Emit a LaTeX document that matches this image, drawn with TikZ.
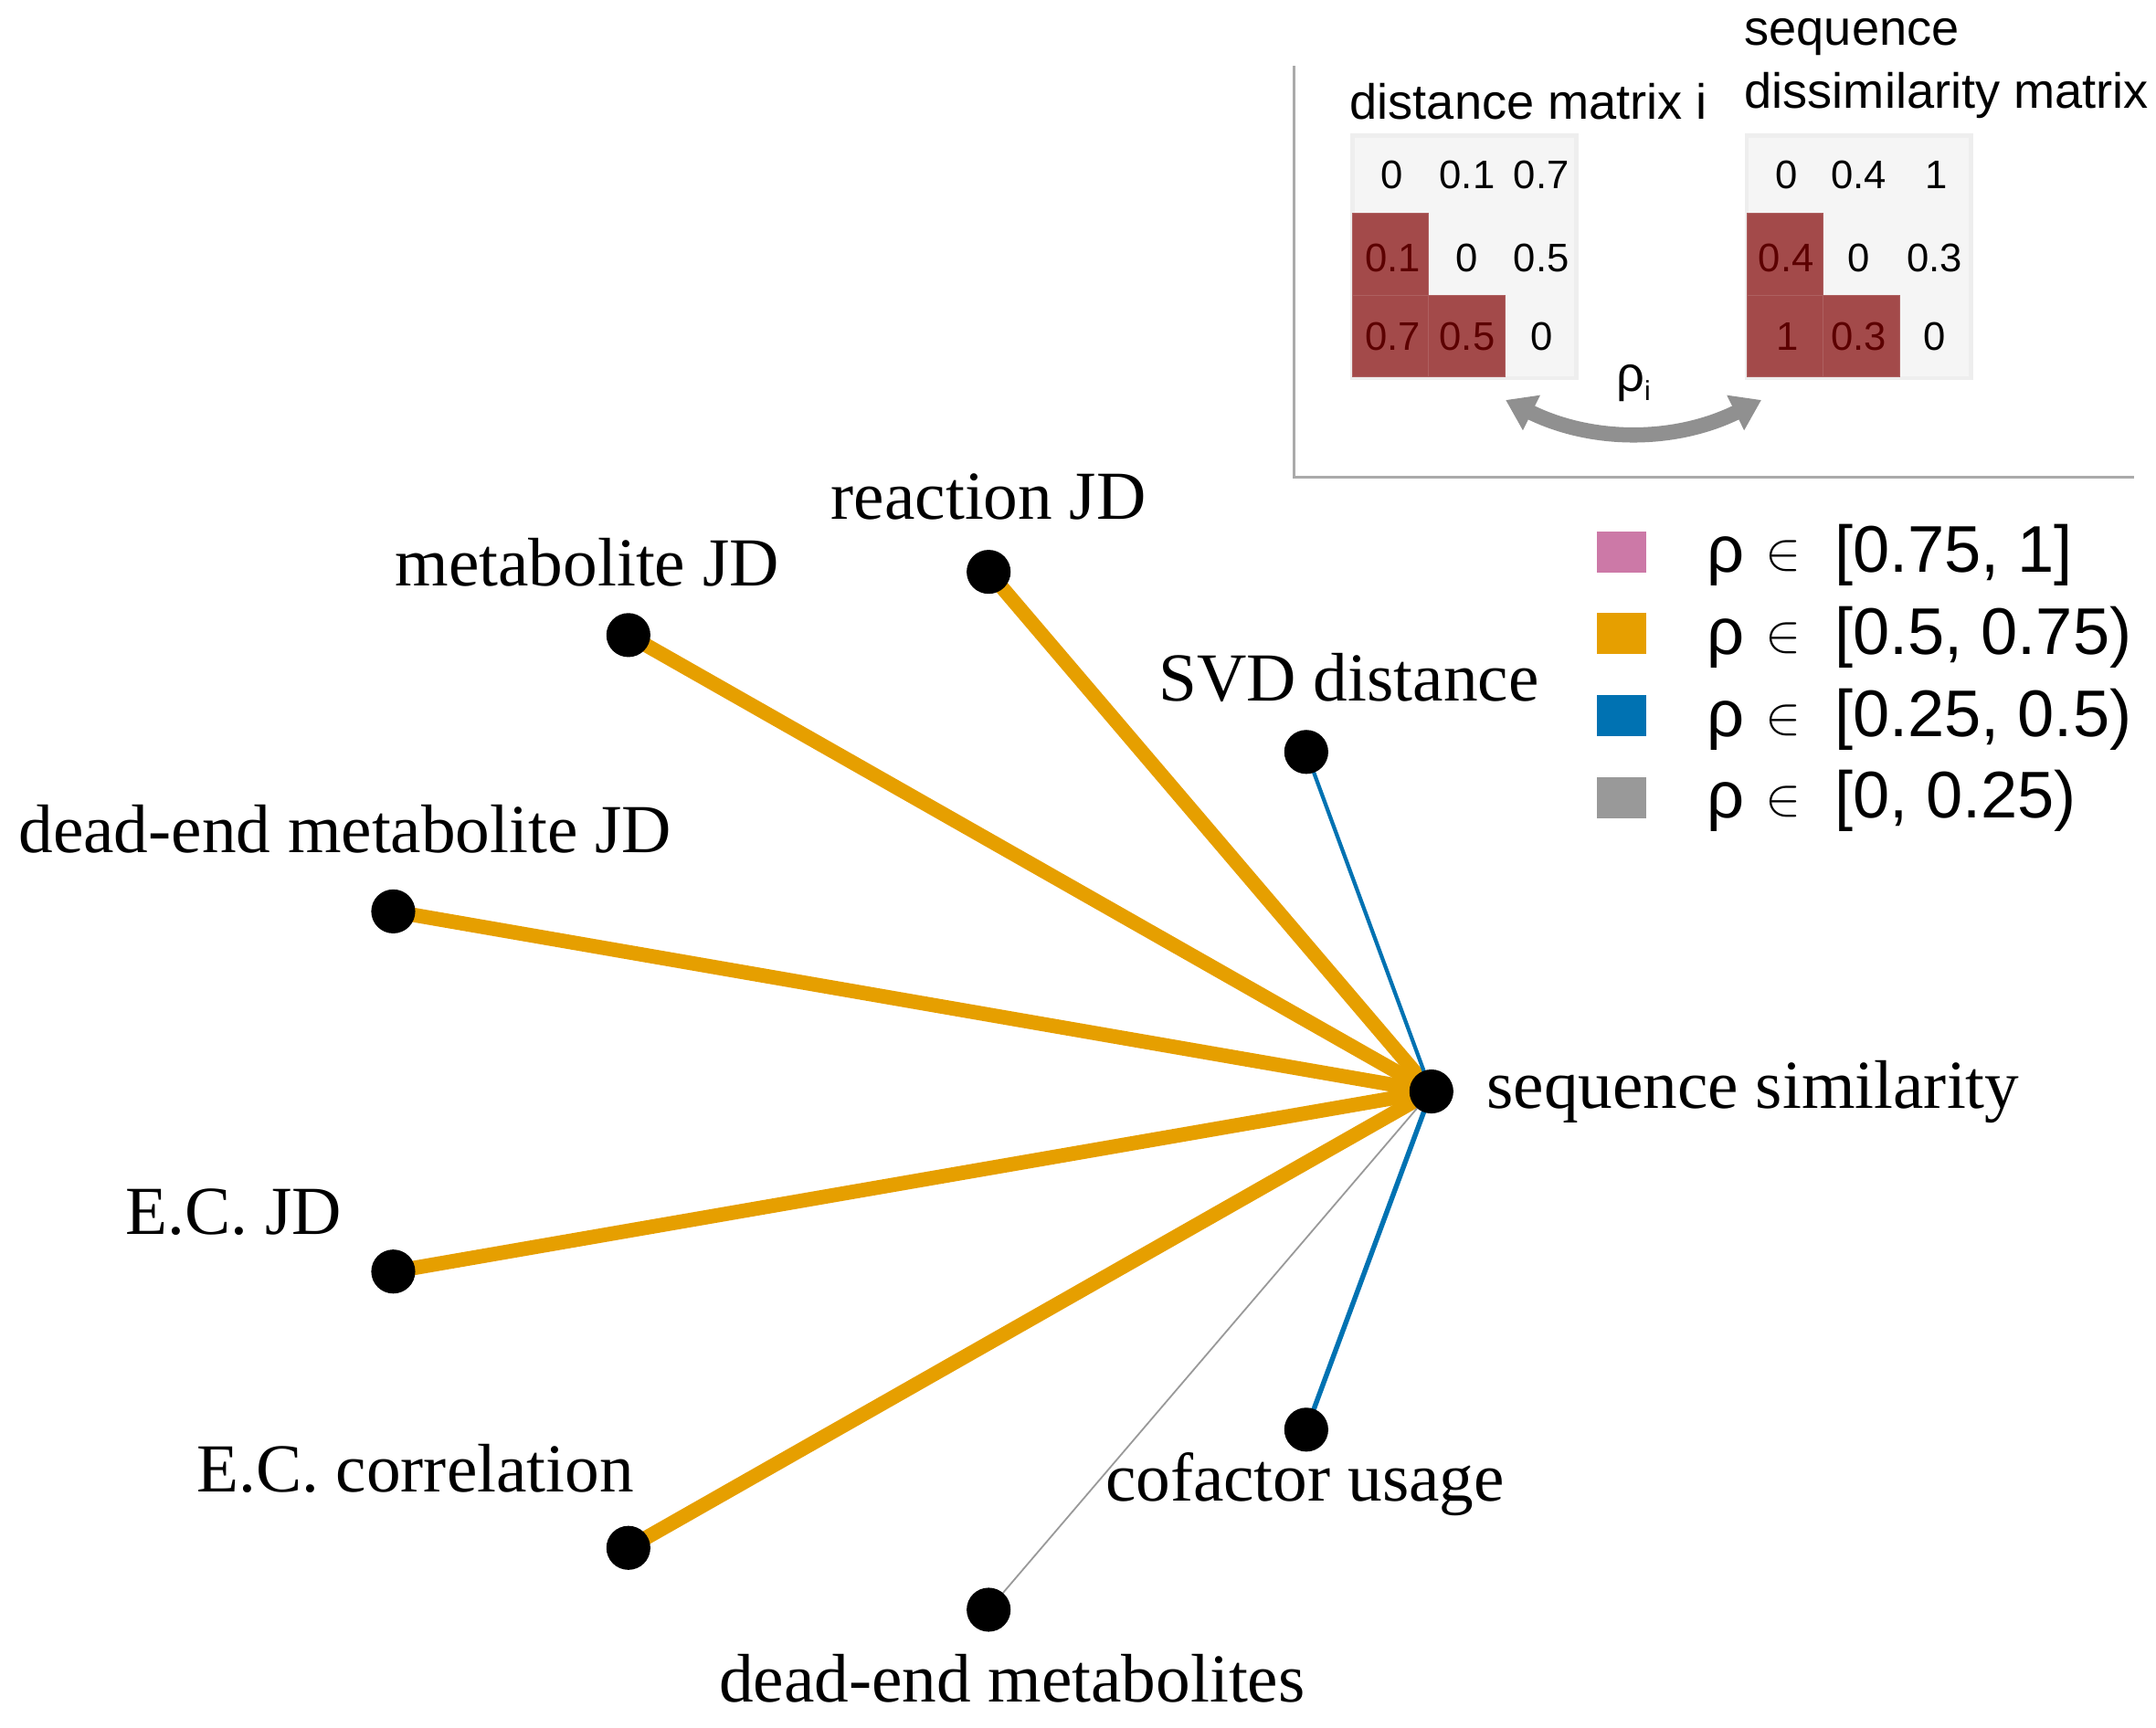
\documentclass[tikz,border=0pt]{standalone}
\usepackage{graphicx}
\usepackage{fontspec}
\setmainfont{Liberation Serif}
\newfontfamily\sansf{Liberation Sans}
\usetikzlibrary{arrows.meta}
\definecolor{okorange}{HTML}{E69F00}
\definecolor{okblue}{HTML}{0072B2}
\definecolor{okpink}{HTML}{CC79A7}
\definecolor{okgray}{HTML}{999999}
\definecolor{matred}{RGB}{163,74,74}
\definecolor{matdark}{RGB}{92,0,0}
\definecolor{matbg}{HTML}{F5F5F5}
\definecolor{matedge}{HTML}{EEEEEE}
\definecolor{framegray}{HTML}{AAAAAA}
\definecolor{arrowgray}{HTML}{909090}
\pgfdeclarelayer{bg}
\pgfsetlayers{bg,main}
\newcommand{\elemof}{\hspace{2pt}\raisebox{2pt}{\resizebox{!}{21pt}{$\in$}}\hspace{11pt}}
\begin{document}
\begin{tikzpicture}[x=1pt,y=-1pt,
  dot/.style={circle,fill=black,inner sep=0pt,minimum size=32pt},
  lab/.style={font=\fontsize{50}{56}\selectfont,inner sep=0pt,anchor=base},
  strong/.style={draw=okorange,line width=10.5pt},
  mid/.style={draw=okblue,line width=2.8pt},
  midb/.style={draw=okblue,line width=3.6pt},
  weak/.style={draw=okgray,line width=1.2pt},
  legsq/.style={inner sep=0pt,minimum width=36pt,minimum height=30pt},
  legtxt/.style={font=\sansf\fontsize{48}{54}\selectfont,inner sep=0pt,anchor=base west},
  ttl/.style={font=\sansf\fontsize{36}{40}\selectfont,inner sep=0pt,anchor=base west},
  num/.style={font=\sansf\fontsize{29}{32}\selectfont,inner sep=0pt},
  rnum/.style={num,text=matdark},
  redcell/.style={fill=matred,draw=matred!88!white,line width=0.6pt},
]
\useasboundingbox (0,0) rectangle (1568,1257);

% ---------- inset frame ----------
\draw[framegray,line width=2.3pt] (941,48) -- (941,347) -- (1552,347);

% ---------- matrix A ----------
\fill[matedge] (982,97) rectangle (1148,276.5);
\fill[matbg] (985,100) rectangle (1145,273.5);
\path[redcell] (983.5,155) rectangle (1039,214.6);
\path[redcell] (983.5,214.6) rectangle (1039,274.3);
\path[redcell] (1039,214.6) rectangle (1094.5,274.3);
\node[num]  (a11) at (1012,127.5) {0};
\node[num]  (a12) at (1067,127.5) {0.1};
\node[num]  (a13) at (1121,127.5) {0.7};
\node[rnum] (a21) at (1013,187.5) {0.1};
\node[num]  (a22) at (1067,187.5) {0};
\node[num]  (a23) at (1121,187.5) {0.5};
\node[rnum] (a31) at (1013,245) {0.7};
\node[rnum] (a32) at (1067,245) {0.5};
\node[num]  (a33) at (1121,245) {0};
\node[ttl] (ta) at (981.5,87) {distance matrix i};

% ---------- matrix B ----------
\fill[matedge] (1268.8,97) rectangle (1434.8,276.5);
\fill[matbg] (1271.8,100) rectangle (1431.8,273.5);
\path[redcell] (1270.3,155) rectangle (1326,214.6);
\path[redcell] (1270.3,214.6) rectangle (1326,274.3);
\path[redcell] (1326,214.6) rectangle (1381.6,274.3);
\node[num]  (b11) at (1299,127.5) {0};
\node[num]  (b12) at (1352,127.5) {0.4};
\node[num]  (b13) at (1408,127.5) {1};
\node[rnum] (b21) at (1299,187.5) {0.4};
\node[num]  (b22) at (1352,187.5) {0};
\node[num]  (b23) at (1407,187.5) {0.3};
\node[rnum] (b31) at (1300,245) {1};
\node[rnum] (b32) at (1352,245) {0.3};
\node[num]  (b33) at (1407,245) {0};
\node[ttl] (tb1) at (1268.5,33) {sequence};
\node[ttl] (tb2) at (1268.5,79) {dissimilarity matrix};

% ---------- rho_i arrow ----------
\coordinate (arrL) at (1095,291);
\coordinate (arrR) at (1281,291);
\draw[arrowgray,line width=11pt,
  {Triangle[length=21pt,width=27pt]}-{Triangle[length=21pt,width=27pt]}]
  (arrL) .. controls (1158,322) and (1218,322) .. (arrR);
\node[font=\sansf\fontsize{36}{40}\selectfont,inner sep=0pt,anchor=base] (rhoi) at (1188,284.6)
  {ρ\raisebox{-7pt}{\fontsize{20}{22}\selectfont i}};

% ---------- legend ----------
\node[legsq,fill=okpink]   (l1) at (1179.4,401.5) {};
\node[legsq,fill=okorange] (l2) at (1179.4,461)   {};
\node[legsq,fill=okblue]   (l3) at (1179.4,520.7) {};
\node[legsq,fill=okgray]   (l4) at (1179.4,580.2) {};
\node[legtxt] (t1) at (1241,416.4) {ρ \elemof{} [0.75, 1]};
\node[legtxt] (t2) at (1241,476)   {ρ \elemof{} [0.5, 0.75)};
\node[legtxt] (t3) at (1241,535.7) {ρ \elemof{} [0.25, 0.5)};
\node[legtxt] (t4) at (1241,595.2) {ρ \elemof{} [0, 0.25)};

% ---------- graph nodes ----------
\node[dot] (seq)  at (1041,794)  {};
\node[dot] (rjd)  at (719,416)   {};
\node[dot] (mjd)  at (457,462)   {};
\node[dot] (svd)  at (950,547)   {};
\node[dot] (dejd) at (286,663)   {};
\node[dot] (ecjd) at (286,925)   {};
\node[dot] (ecc)  at (457,1126)  {};
\node[dot] (dem)  at (719,1171)  {};
\node[dot] (cof)  at (950,1040)  {};

\node[lab] (Lrjd)  at (719,378)  {reaction JD};
\node[lab] (Lmjd)  at (427,426)  {metabolite JD};
\node[lab] (Lsvd)  at (981,510)  {SVD distance};
\node[lab] (Ldejd) at (251,620)  {dead-end metabolite JD};
\node[lab] (Lecjd) at (170,898)  {E.C. JD};
\node[lab] (Lecc)  at (302,1085) {E.C. correlation};
\node[lab] (Ldem)  at (736,1238) {dead-end metabolites};
\node[lab] (Lcof)  at (949,1092) {cofactor usage};
\node[lab,anchor=base west] (Lseq) at (1081,806) {sequence similarity};

% ---------- edges ----------
\begin{pgfonlayer}{bg}
\draw[strong] (rjd.center)  -- (seq.center);
\draw[strong] (mjd.center)  -- (seq.center);
\draw[strong] (dejd.center) -- (seq.center);
\draw[strong] (ecjd.center) -- (seq.center);
\draw[strong] (ecc.center)  -- (seq.center);
\draw[mid]    (svd.center)  -- (seq.center);
\draw[midb]   (cof.center)  -- (seq.center);
\draw[weak]   (dem.center)  -- (seq.center);
\end{pgfonlayer}
\end{tikzpicture}
\end{document}
